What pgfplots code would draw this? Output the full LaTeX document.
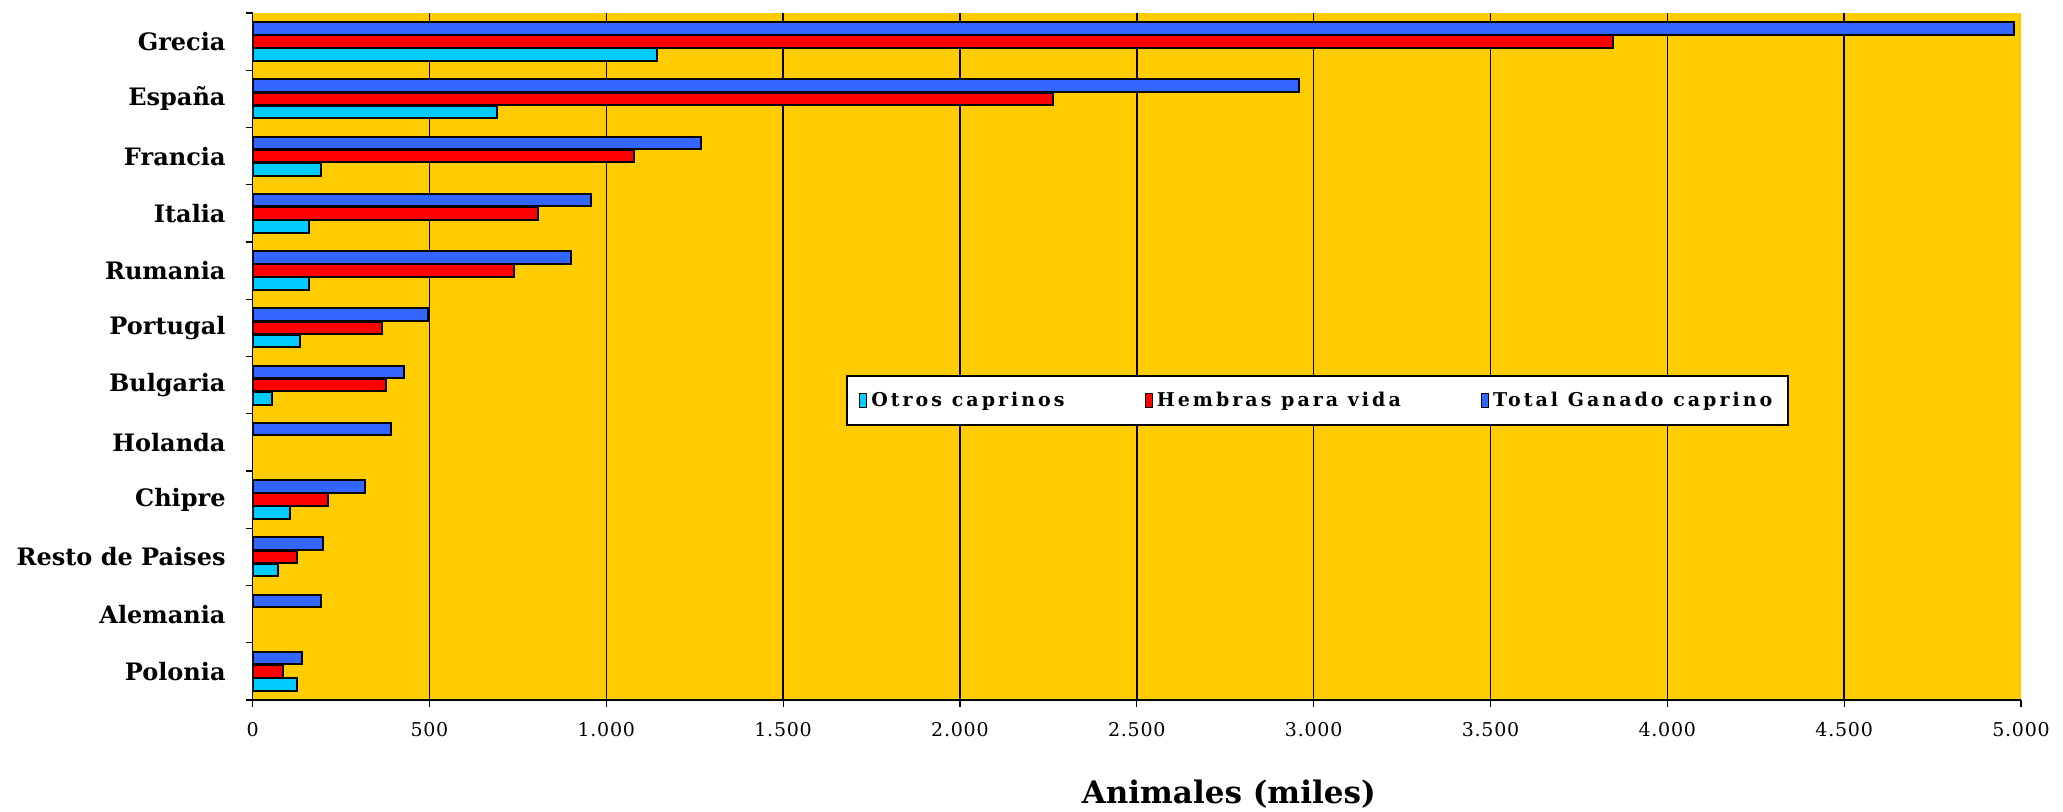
\documentclass[border=0pt]{standalone}
\usepackage{fontspec}
\setmainfont{DejaVu Serif}
\newfontfamily\spaced[LetterSpace=4]{DejaVu Serif}
\newfontfamily\legfont[LetterSpace=16]{DejaVu Serif}
\usepackage{pgfplots}
\pgfplotsset{compat=1.18}
\definecolor{bgyellow}{RGB}{255,204,0}
\definecolor{cblue}{RGB}{51,102,255}
\definecolor{cred}{RGB}{255,0,0}
\definecolor{ccyan}{RGB}{0,204,255}
\begin{document}
\begin{tikzpicture}
\useasboundingbox (0,0) rectangle (1031.5pt,406pt);
\begin{axis}[
  at={(126.3pt,56pt)}, anchor=south west,
  scale only axis,
  width=884.2pt, height=343.5pt,
  xbar,
  bar width=0.22,
  xmin=0, xmax=5000,
  ymin=-0.5, ymax=11.5,
  axis background/.style={fill=bgyellow},
  axis x line*=bottom, axis y line*=left,
  axis line style={-},
  x axis line style={line width=1.3pt},
  y axis line style={line width=0.8pt},
  tick align=outside,
  major tick length=3.5pt,
  tick style={black, line width=0.6pt},
  xtick={0,500,...,5000},
  minor xtick={500,1000,...,4500},
  minor tick length=0pt,
  xminorgrids,
  minor grid style={black, line width=0.7pt},
  scaled x ticks=false,
  /pgf/number format/.cd, 1000 sep={.}, assume math mode=true,
  /pgfplots/.cd,
  xticklabel style={font=\spaced\fontsize{9.5}{11}\selectfont, yshift=-4pt},
  ytick={-0.5,0.5,...,11.5},
  yticklabels={},
  extra y ticks={0,1,2,3,4,5,6,7,8,9,10,11},
  extra y tick labels={Polonia,Alemania,Resto de Paises,Chipre,Holanda,Bulgaria,Portugal,Rumania,Italia,Francia,España,Grecia},
  extra y tick style={major tick length=0pt, yticklabel style={font=\bfseries\fontsize{12}{14}\selectfont, anchor=east, xshift=-10pt}},
  xlabel={Animales (miles)},
  xlabel style={font=\bfseries\fontsize{15.5}{18}\selectfont, at={(axis description cs:0.552,0)}, anchor=center, yshift=-47pt},
  legend columns=3,
  legend style={at={(rel axis cs:0.3356,0.473)}, anchor=north west, draw=black, line width=1pt, fill=white,
    font=\legfont\bfseries\fontsize{9.5}{11}\selectfont, inner xsep=6pt, inner ysep=6pt,
    /tikz/every even column/.append style={column sep=38pt}},
  legend image code/.code={\draw[#1, line width=0.6pt] (0pt,-3.5pt) rectangle (3.5pt,3.5pt);},
]
\addplot[fill=ccyan, draw=black, line width=1pt, bar shift=-0.23] coordinates {
 (125,0) (71,2) (105,3) (54,5) (133,6) (159,7) (159,8) (192,9) (692,10) (1143,11)};
\addplot[fill=cred, draw=black, line width=1pt, bar shift=0] coordinates {
 (85,0) (125,2) (212,3) (377,5) (365,6) (740,7) (806,8) (1077,9) (2262,10) (3846,11)};
\addplot[fill=cblue, draw=black, line width=1pt, bar shift=0.23] coordinates {
 (139,0) (192,1) (198,2) (317,3) (391,4) (429,5) (496,6) (899,7) (958,8) (1268,9) (2960,10) (4981,11)};
\legend{Otros caprinos, Hembras para vida, Total Ganado caprino}
\end{axis}
\end{tikzpicture}
\end{document}
